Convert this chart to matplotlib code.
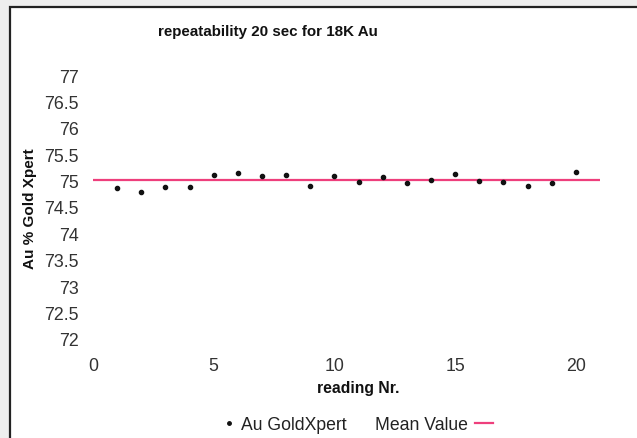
import matplotlib
matplotlib.use("Agg")
import matplotlib.pyplot as plt
from matplotlib.patches import Rectangle
from matplotlib.lines import Line2D

# données
reading = list(range(1, 21))
au_goldxpert = [74.87, 74.81, 74.90, 74.90, 75.12, 75.17, 75.11, 75.12, 74.92, 75.11,
                75.00, 75.09, 74.97, 75.02, 75.15, 75.01, 74.99, 74.91, 74.97, 75.18]
mean_value = 75.02
y_ticks = [72, 72.5, 73, 73.5, 74, 74.5, 75, 75.5, 76, 76.5, 77]
x_ticks = [0, 5, 10, 15, 20]

plt.rcParams['font.family'] = ['Liberation Sans', 'DejaVu Sans']

fig = plt.figure(figsize=(6.37, 4.38), dpi=100)
fig.patch.set_facecolor('#eeeeee')

# cadre blanc du graphique
frame = Rectangle((9.5 / 637, -0.1), 1.2, 1 - 7 / 438 + 0.1, transform=fig.transFigure,
                  facecolor='white', edgecolor='#222222', linewidth=1.6, zorder=-5)
fig.patches.append(frame)

ax = fig.add_axes([93 / 637, 1 - 354 / 438, (600 - 93) / 637, (354 - 65) / 438])
ax.set_zorder(2)
ax.patch.set_alpha(0)

ax.axhline(mean_value, color='#ee3f7c', linewidth=1.6, zorder=2)
ax.plot(reading, au_goldxpert, linestyle='none', marker='o', markersize=3.0,
        color='#111111', zorder=3)

ax.set_xlim(0, 21)
ax.set_ylim(71.73, 77.21)
ax.set_xticks(x_ticks)
ax.set_yticks(y_ticks)
ax.set_yticklabels([f"{v:g}" for v in y_ticks])
ax.tick_params(length=0, labelsize=12.8, labelcolor='#333333')
ax.tick_params(axis='y', pad=10)
ax.tick_params(axis='x', pad=3)
for s in ax.spines.values():
    s.set_visible(False)

fig.text(268 / 637, 1 - 32 / 438, 'repeatability 20 sec for 18K Au', ha='center',
         va='center', fontsize=10.9, fontweight='bold', color='#111111')
fig.text(30 / 637, 1 - 209 / 438, 'Au % Gold Xpert', ha='center', va='center',
         rotation=90, fontsize=11, fontweight='bold', color='#111111')
fig.text(358 / 637, 1 - 389 / 438, 'reading Nr.', ha='center', va='center',
         fontsize=11.3, fontweight='bold', color='#111111')

# légende
h1 = Line2D([], [], linestyle='none', marker='o', markersize=2.5, color='#111111')
h2 = Line2D([], [], color='#ee3f7c', linewidth=1.6)
fig.legend([h1], ['Au GoldXpert'], loc='center', bbox_to_anchor=(285 / 637, 1 - 425 / 438),
           frameon=False, fontsize=12.7, handlelength=0.6, handletextpad=0.4,
           labelcolor='#222222')
fig.legend([h2], ['Mean Value'], loc='center', bbox_to_anchor=(434 / 637, 1 - 425 / 438),
           frameon=False, fontsize=12.7, handlelength=1.0, handletextpad=0.4,
           markerfirst=False, labelcolor='#222222')

fig.savefig('out.png', dpi=100)
